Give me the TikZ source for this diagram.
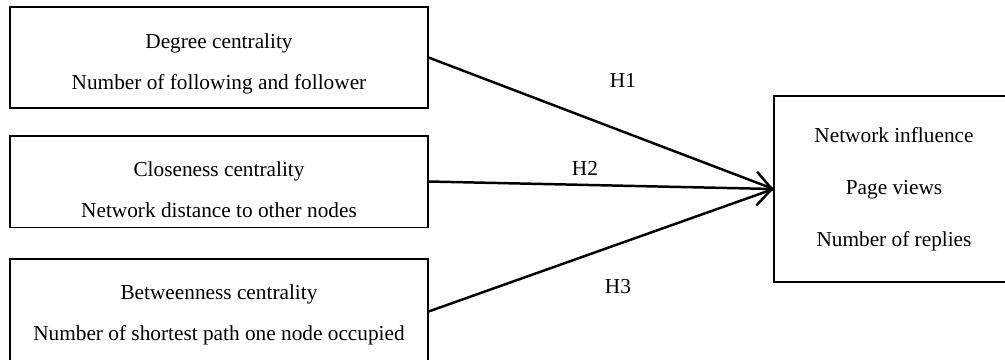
\documentclass[tikz,border=0pt]{standalone}
\usepackage{fontspec}
\setmainfont{Liberation Serif}
\usetikzlibrary{arrows.meta}
\newcommand{\topgap}[1]{\rule{0pt}{#1}}

\begin{document}
\begin{tikzpicture}[x=0.5634pt,y=-0.5634pt,
  every node/.style={font=\fontsize{12}{13.8}\selectfont},
  varbox/.style={draw,line width=0.6pt,align=center,minimum width=235.5pt},
  link/.style={line width=1.4pt}]
  \useasboundingbox (0,0) rectangle (1005,359);
  \node[varbox,minimum height=56.9pt] (degree) at (219,57.5) {\topgap{15.1pt}Degree centrality\\[9.3pt]Number of following and follower};
  \node[varbox,minimum height=51.3pt] (closeness) at (219,181.5) {\topgap{17.3pt}Closeness centrality\\[9.3pt]Network distance to other nodes};
  \node[varbox,minimum height=59.2pt] (between) at (219,311.5) {\topgap{12.3pt}Betweenness centrality\\[9.3pt]Number of shortest path one node occupied};
  \node[varbox,minimum width=135.2pt,minimum height=104.8pt] (influence) at (894,189) {Network influence\\[15.5pt]Page views\\[15.5pt]Number of replies};
  \draw[link] (degree.east) -- (influence.west);
  \draw[link,-{Straight Barb[length=8.5pt,width=19pt]}] (closeness.east) -- (influence.west);
  \draw[link] (between.east) -- (influence.west);
   \foreach \n/\x/\y in {1/623/80,2/585/168,3/618/287}
   {
    \node (h\n) at (\x,\y) {H\n};
   }
\end{tikzpicture}
\end{document}
